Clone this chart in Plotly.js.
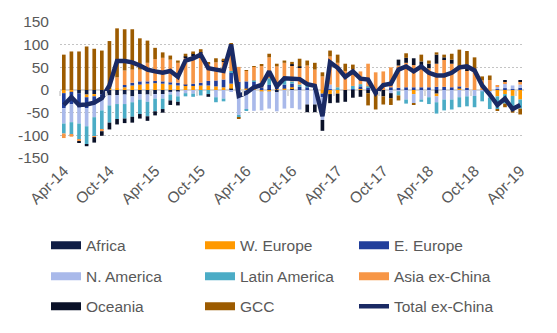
<!DOCTYPE html>
<html>
<head>
<meta charset="utf-8">
<script src="https://cdn.plot.ly/plotly-3.0.1.min.js"></script>
<style>
html,body{margin:0;padding:0;background:#ffffff;}
#chart{width:557px;height:333px;}
</style>
</head>
<body>
<div id="chart"></div>
<script>
// ---- categories (monthly, Apr-14 .. Apr-19) ----
const months = [
  "Apr-14","May-14","Jun-14","Jul-14","Aug-14","Sep-14","Oct-14","Nov-14","Dec-14",
  "Jan-15","Feb-15","Mar-15","Apr-15","May-15","Jun-15","Jul-15","Aug-15","Sep-15","Oct-15","Nov-15","Dec-15",
  "Jan-16","Feb-16","Mar-16","Apr-16","May-16","Jun-16","Jul-16","Aug-16","Sep-16","Oct-16","Nov-16","Dec-16",
  "Jan-17","Feb-17","Mar-17","Apr-17","May-17","Jun-17","Jul-17","Aug-17","Sep-17","Oct-17","Nov-17","Dec-17",
  "Jan-18","Feb-18","Mar-18","Apr-18","May-18","Jun-18","Jul-18","Aug-18","Sep-18","Oct-18","Nov-18","Dec-18",
  "Jan-19","Feb-19","Mar-19","Apr-19"
];
const tickLabels = ["Apr-14","Oct-14","Apr-15","Oct-15","Apr-16","Oct-16","Apr-17","Oct-17","Apr-18","Oct-18","Apr-19"];
const yTickValues = [-150,-100,-50,0,50,100,150];
const yTickText = ["-150","-100","-50","0","50","100","150"];

// ---- series values ----
const africa = [
  0,0,-8,-10,-9,-10,-12,-11,-10,-14,
  -9,-10,-9,-9,-4,-3,0,0,0,0,
  0,0,3,0,0,0,0,1,-5,0,
  3,0,0,0,0,0,0,0,0,0,
  0,0,0,0,0,0,0,0,0,-8,
  0,0,0,0,0,0,0,0,0,0,
  0];
const wEurope = [
  -7,-4,0,-6,-5,0,2,4,6,10,
  12,14,15,14,12,10,10,10,10,10,
  8,6,11,3,3,3,-3,-3,2,3,
  3,0,0,0,-8,-9,-8,0,0,4,
  0,0,0,0,0,0,-9,0,0,-6,
  0,0,3,0,0,0,-2,-14,-9,-13,
  -21];
const eEurope = [
  -33,-27,-31,-24,-18,-5,0,0,5,6,
  7,5,5,5,5,6,2,4,6,10,
  13,17,24,15,16,15,6,10,5,9,
  8,7,6,5,-8,2,0,0,2,4,
  5,0,0,6,5,6,6,6,6,7,
  7,6,5,5,0,0,0,2,4,2,
  5];
const nAmerica = [
  -34,-40,-35,-40,-28,-30,-22,-20,-21,-13,
  -12,-16,-10,-10,-6,-11,-7,-8,0,0,
  -16,-19,-3,-55,-44,-46,-42,-38,-42,-41,
  -40,-43,-32,-32,-50,10,2,0,0,0,
  0,0,0,-7,-3,-21,-20,-21,-16,-13,
  -21,-21,-16,-14,-13,-3,-15,5,10,8,
  7];
const latinAmerica = [
  -22,-28,-36,-40,-42,-43,-38,-33,-32,-32,
  -32,-32,-28,-23,-13,-12,-7,-7,-12,-9,
  -11,-6,4,-6,-2,3,0,15,0,11,
  5,5,6,3,0,0,4,0,7,5,
  3,0,0,0,-9,-9,0,-5,-15,-25,
  -24,-22,-22,-22,-25,-22,-25,-28,-21,-31,
  -20];
const asiaExChina = [
  -10,-4,-3,0,-2,-3,0,24,32,29,
  26,41,48,52,50,44,60,63,66,39,
  40,40,58,33,23,30,47,46,45,37,
  36,38,42,37,30,62,54,42,36,28,
  50,39,41,44,49,54,49,46,42,51,
  61,52,37,38,45,21,22,3,4,0,
  7];
const oceania = [
  0,0,-3,-4,-12,-10,-15,-12,-10,-13,
  -10,-10,-9,-8,-10,-8,2,4,1,-6,
  0,2,0,0,0,0,0,0,0,0,
  2,2,-17,-17,-24,-20,-20,-26,-17,-15,
  -7,-8,-14,-11,13,11,15,11,10,20,
  4,9,0,3,0,0,0,0,3,0,
  2];
const gcc = [
  78,85,85,96,91,87,106,108,91,89,
  69,49,25,12,9,5,6,4,7,2,
  9,4,2,-2,1,1,3,8,6,5,
  5,17,11,15,9,13,18,16,11,0,
  -27,-35,-18,-15,-11,10,-4,15,7,5,
  6,13,44,40,27,9,10,-3,-8,-6,
  -13];
const totalExChina = [
  -33,-16,-33,-32,-28,-18,10,64,64,61,
  54,45,41,38,42,29,65,70,78,48,
  45,42,100,-13,-6,6,11,41,8,26,
  25,24,13,9,-58,61,49,29,41,25,
  23,-7,11,14,45,52,41,52,38,32,
  32,38,50,52,43,10,-10,-33,-19,-42,
  -33];

const seriesNames  = ["Africa","W. Europe","E. Europe","N. America","Latin America","Asia ex-China","Oceania","GCC"];
const seriesValues = [africa, wEurope, eEurope, nAmerica, latinAmerica, asiaExChina, oceania, gcc];
const seriesColors = ["#0f1d45","#ff9900","#213e9b","#a9b9ea","#4bacc6","#f79646","#0a1128","#9c5b00"];
const lineName = "Total ex-China";
const lineColor = "#1a2a64";
const legendRows = ["legend","legend","legend","legend2","legend2","legend2","legend3","legend3"];

const textFont = {family: "Liberation Sans, Arial, sans-serif", size: 15.5, color: "#595959"};

const traces = [];
// stacked bars
seriesNames.forEach((name, k) => {
  traces.push({
    type: "bar", name: name, x: months, y: seriesValues[k],
    marker: {color: seriesColors[k], line: {width: 0}},
    legendgroup: name, showlegend: false, hoverinfo: "x+y+name"
  });
});
// legend keys (wide swatches drawn as thick line keys)
seriesNames.forEach((name, k) => {
  traces.push({
    type: "scatter", mode: "lines", name: name, x: [null], y: [null],
    line: {color: seriesColors[k], width: 8},
    legendgroup: name, showlegend: true, legend: legendRows[k], hoverinfo: "skip"
  });
});
// total line
traces.push({
  type: "scatter", mode: "lines", name: lineName, x: months, y: totalExChina,
  line: {color: lineColor, width: 4.5, shape: "linear"},
  legend: "legend3", showlegend: true
});
// category-boundary tick marks drawn on the zero line (helper axis)
const boundaryTicks = [];
for (let i = 0; i < months.length; i += 6) boundaryTicks.push(i - 0.5);
traces.push({
  type: "scatter", mode: "lines", x: [null], y: [null], xaxis: "x2", yaxis: "y",
  showlegend: false, hoverinfo: "skip"
});

function legendAt(yPos) {
  return {
    orientation: "h", xref: "container", yref: "container",
    x: 46/557, y: yPos, xanchor: "left", yanchor: "middle",
    entrywidth: 109, entrywidthmode: "pixels",
    font: textFont, bgcolor: "rgba(0,0,0,0)", borderwidth: 0,
    traceorder: "normal"
  };
}

const layout = {
  width: 557, height: 333,
  margin: {l: 60, r: 33, t: 22, b: 175, pad: 0},
  paper_bgcolor: "#ffffff", plot_bgcolor: "#ffffff",
  barmode: "relative", bargap: 0.52,
  font: textFont,
  showlegend: true,
  xaxis: {
    type: "category", range: [-0.5, months.length - 0.5],
    tickmode: "array", tickvals: tickLabels, ticktext: tickLabels,
    tickangle: -45, tickfont: textFont,
    showgrid: false, zeroline: false, showline: false, ticks: "",
    automargin: false, fixedrange: true
  },
  xaxis2: {
    overlaying: "x", anchor: "free", position: 0.5, side: "bottom",
    type: "linear", range: [-0.5, months.length - 0.5],
    tickmode: "array", tickvals: boundaryTicks,
    ticks: "outside", ticklen: 5, tickwidth: 1.5, tickcolor: "#d9d9d9",
    showticklabels: false, showgrid: false, zeroline: false, showline: false,
    automargin: false, fixedrange: true
  },
  yaxis: {
    range: [-150, 150], tickmode: "array", tickvals: yTickValues, ticktext: yTickText,
    tickfont: textFont, ticks: "", ticklabelstandoff: 10,
    showgrid: true, gridcolor: "#c4c4c4", gridwidth: 1, griddash: "2px,2px",
    zeroline: true, zerolinecolor: "#d9d9d9", zerolinewidth: 2,
    showline: false, automargin: false, fixedrange: true
  },
  legend:  legendAt(1 - 245.7/333),
  legend2: legendAt(1 - 276.7/333),
  legend3: legendAt(1 - 306.7/333)
};

Plotly.newPlot("chart", traces, layout, {displayModeBar: false, responsive: false});
</script>
</body>
</html>
